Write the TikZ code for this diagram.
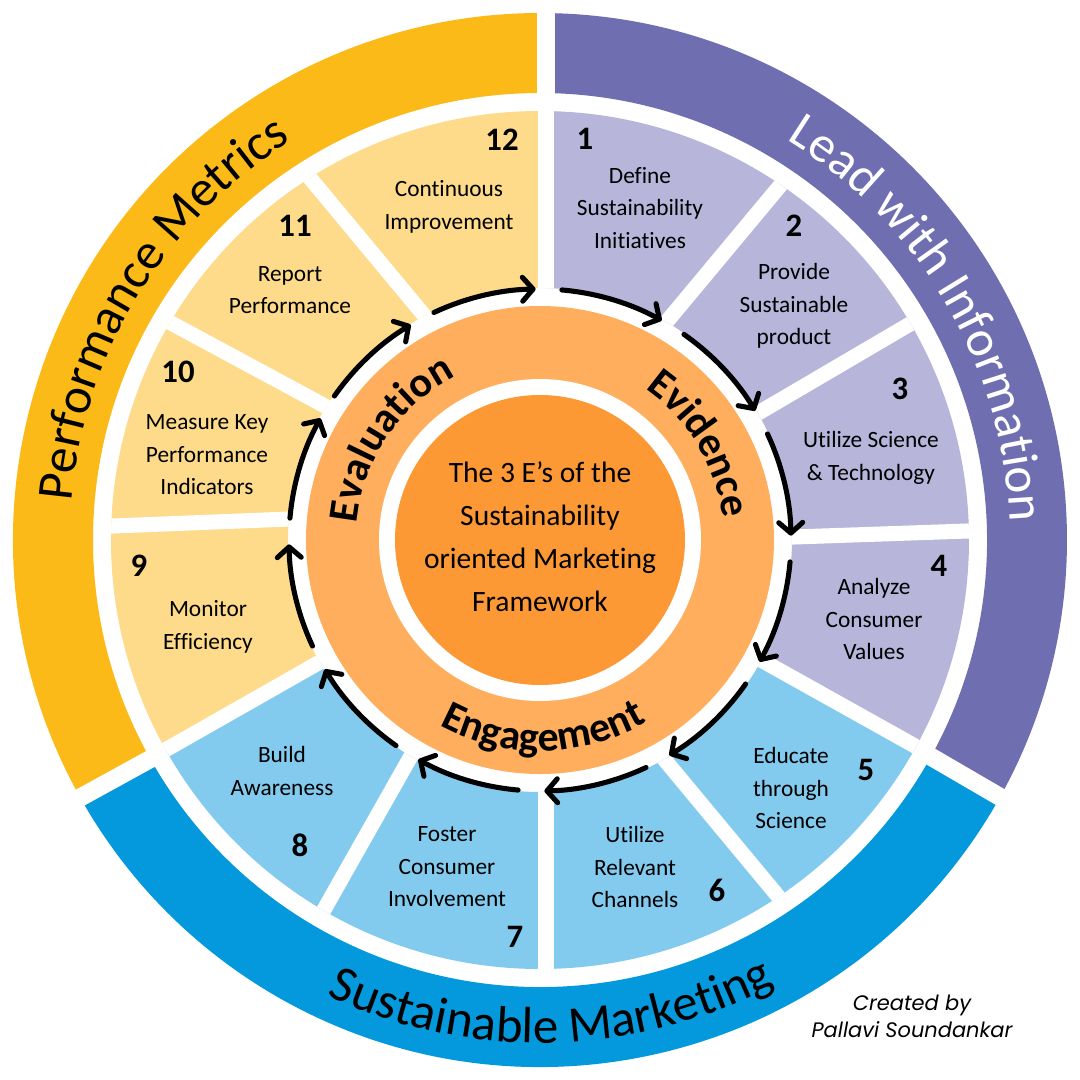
\documentclass[tikz,border=0pt]{standalone}
\usepackage{fontspec}
\setmainfont{Carlito}[Ligatures=NoCommon]
\newfontfamily\creditfont{Poppins}
\usetikzlibrary{arrows.meta,calc,decorations.text}

\definecolor{yellowband}{HTML}{FBBA17}
\definecolor{purpleband}{HTML}{6F6EB1}
\definecolor{blueband}{HTML}{0399DC}
\definecolor{yellowseg}{HTML}{FDDB8B}
\definecolor{purpleseg}{HTML}{B7B5DA}
\definecolor{blueseg}{HTML}{83CBEE}
\definecolor{ringorange}{HTML}{FEAE5D}
\definecolor{coreorange}{HTML}{FD9935}

\newcommand{\bandfont}{\fontsize{36.3pt}{40pt}\selectfont}
\newcommand{\ringfont}{\bfseries\fontsize{29.9pt}{32pt}\selectfont}

\begin{document}
\begin{tikzpicture}[x=0.025cm,y=0.025cm,
  seglabel/.style={align=center,font=\fontsize{16.6pt}{23.1pt}\selectfont},
  segnum/.style={font=\bfseries\fontsize{23.3pt}{26pt}\selectfont},
  gapline/.style={white,line width=10.7pt},
  bandgap/.style={white,line width=12.8pt},
  flow/.style={-{Straight Barb[length=7.5pt,width=17pt,round]},line width=3.6pt,line cap=round}]
  \useasboundingbox (-540,-540) rectangle (540,540);
  \fill[white] (-540,-540) rectangle (540,540);

  % outer band
  \foreach \a/\b/\c in {89.3/-29.1/purpleband,-29.1/-150.7/blueband,209.3/89.3/yellowband}
    \fill[\c] (\a:527) arc[start angle=\a,end angle=\b,radius=527]
      -- (\b:447) arc[start angle=\b,end angle=\a,radius=447] -- cycle;
  \draw[bandgap] (6,440) -- (6,535);
  \draw[bandgap] (388,-215) -- (467,-261);
  \draw[bandgap] (-386,-217) -- (-466,-261);

  % gaps between the steps
  \coordinate (i0) at (6,250);      \coordinate (o0) at (6,435);
  \coordinate (i1) at (129,221);    \coordinate (o1) at (239,353);
  \coordinate (i2) at (220,128);    \coordinate (o2) at (370,216);
  \coordinate (i3) at (254,3);      \coordinate (o3) at (428,9);
  \coordinate (i4) at (221,-120);   \coordinate (o4) at (375,-206);
  \coordinate (i5) at (124,-219);   \coordinate (o5) at (237,-355);
  \coordinate (i6) at (6,-250);     \coordinate (o6) at (6,-428);
  \coordinate (i7) at (-129,-216);  \coordinate (o7) at (-215,-368);
  \coordinate (i8) at (-220,-122);  \coordinate (o8) at (-373,-209);
  \coordinate (i9) at (-250,21);    \coordinate (o9) at (-427,14);
  \coordinate (i10) at (-215,134);  \coordinate (o10) at (-369,217);
  \coordinate (i11) at (-117,226);  \coordinate (o11) at (-230,362);

  \begin{scope}[even odd rule]
    \clip (0,0) circle[radius=429] (0,0) circle[radius=252];
    \foreach \k/\p/\c in {1/0/purpleseg,2/1/purpleseg,3/2/purpleseg,4/3/purpleseg,
                          5/4/blueseg,6/5/blueseg,7/6/blueseg,8/7/blueseg,
                          9/8/yellowseg,10/9/yellowseg,11/10/yellowseg,0/11/yellowseg}
      \fill[\c] ($(i\p)!-0.6!(o\p)$) -- ($(i\p)!1.6!(o\p)$)
        -- ($(i\k)!1.6!(o\k)$) -- ($(i\k)!-0.6!(o\k)$) -- cycle;
    \foreach \k in {0,...,11}
      \draw[gapline] ($(i\k)!-0.3!(o\k)$) -- ($(o\k)!-0.3!(i\k)$);
  \end{scope}

  % the three E's
  \fill[ringorange] (0,0) circle[radius=234];
  \fill[white] (0,0) circle[radius=161];
  \fill[coreorange] (0,0) circle[radius=145];
  \node[align=center,font=\fontsize{21pt}{30.6pt}\selectfont] (core) at (0,3)
    {The 3 E’s of the\\Sustainability\\oriented Marketing\\Framework};

  \path[decorate,decoration={text along path,text align=center,
    text={|\ringfont|Evaluation}}] (196:184) arc[start angle=196,end angle=96,radius=184];
  \path[decorate,decoration={text along path,text align=center,
    text={|\ringfont|Evidence}}] (81:184) arc[start angle=81,end angle=-19,radius=184];
  \path[decorate,decoration={text along path,text align=center,
    text={|\ringfont|Engagement}}] (221:211) arc[start angle=221,end angle=321,radius=211];

  % band titles
  \path[decorate,decoration={text along path,text align=center,
    text={|\bandfont|Performance Metrics}}] (188.6:470) arc[start angle=188.6,end angle=108.6,radius=470];
  \path[decorate,decoration={text along path,text align=center,text color=white,
    text={|\bandfont|Lead with Information}}] (70.3:470) arc[start angle=70.3,end angle=-9.7,radius=470];
  \path[decorate,decoration={text along path,text align=center,
    text={|\bandfont|Sustainable Marketing}}] (231.4:503) arc[start angle=231.4,end angle=311.4,radius=503];

  % steps
  \foreach \n/\x/\y in {1/45/401,2/254/314,3/360/151,4/399/-26,5/326/-230,6/177/-350,
                        7/-25/-397,8/-240/-305,9/-401/-26,10/-362/168,11/-245/314,12/-38/400}
    \node[segnum] (n\n) at (\x,\y) {\n};
  \node[seglabel] (l1) at (100,332) {Define\\Sustainability\\Initiatives};
  \node[seglabel] (l2) at (254,234) {Provide\\Sustainable\\product};
  \node[seglabel] (l3) at (331,82) {Utilize Science\\\& Technology};
  \node[seglabel] (l4) at (334,-79) {Analyze\\Consumer\\Values};
  \node[seglabel] (l5) at (251,-248) {Educate\\through\\Science};
  \node[seglabel] (l6) at (95,-327) {Utilize\\Relevant\\Channels};
  \node[seglabel] (l7) at (-93,-327) {Foster\\Consumer\\Involvement};
  \node[seglabel] (l8) at (-258,-231) {Build\\Awareness};
  \node[seglabel] (l9) at (-332,-87) {Monitor\\Efficiency};
  \node[seglabel] (l10) at (-333,85) {Measure Key\\Performance\\Indicators};
  \node[seglabel] (l11) at (-250,250) {Report\\Performance};
  \node[seglabel] (l12) at (-91,333) {Continuous\\Improvement};

  % flow arrows
  \foreach \k in {0,...,11}{
    \pgfmathsetmacro\s{115-30*\k}
    \pgfmathsetmacro\e{91-30*\k}
    \coordinate (a\k) at (\s:251);
    \draw[flow] (a\k) arc[start angle=\s,end angle=\e,radius=251];
  }

  \node[align=center,font=\creditfont\itshape\fontsize{14.9pt}{19.2pt}\selectfont] (credit)
    at (372,-476) {Created by\\Pallavi Soundankar};
\end{tikzpicture}
\end{document}
